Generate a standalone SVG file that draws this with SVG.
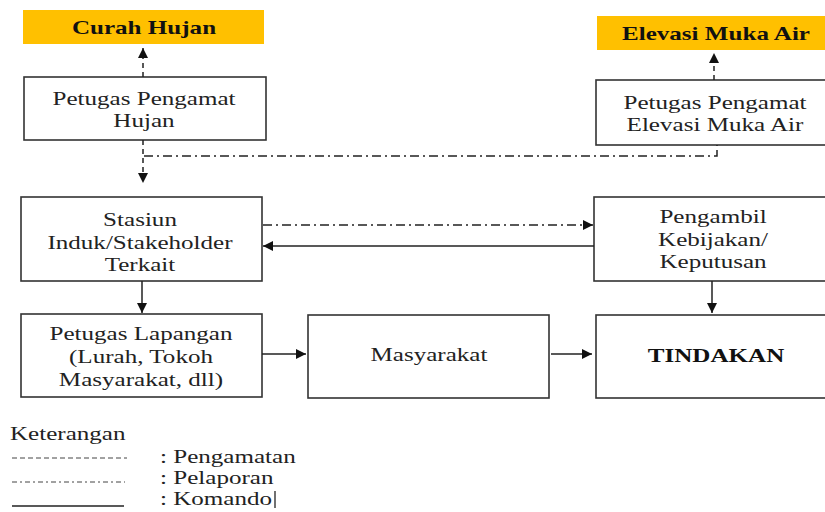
<svg xmlns="http://www.w3.org/2000/svg" width="825" height="512" viewBox="0 0 825 512">
<style>
.box{fill:#fff;stroke:#333;stroke-width:1.6}
.hl{fill:#FFC000;stroke:none}
.t{font-family:'Liberation Serif','Times New Roman',serif;font-size:19px;fill:#222;text-anchor:middle}
.b{font-weight:bold;fill:#111}
.l{font-family:'Liberation Serif','Times New Roman',serif;font-size:19px;fill:#222}
.c{fill:none;stroke:#222;stroke-width:1.5}
.dash{stroke-dasharray:5 4}
.dd{stroke-dasharray:9 4 2 4}
</style>
<defs>
<marker id="ah" viewBox="0 0 10 10" refX="10" refY="5" markerWidth="10" markerHeight="10" markerUnits="userSpaceOnUse" orient="auto">
<path d="M0,0 L10,5 L0,10 Z" fill="#111"/>
</marker>
</defs>
<rect width="825" height="512" fill="#fff"/>

<g id="curah-hujan">
<rect class="hl" x="23" y="10" width="241" height="34"/>
<text class="t b" transform="translate(144,34) scale(1.32,1)">Curah Hujan</text>
</g>
<g id="elevasi-muka-air">
<rect class="hl" x="597" y="16" width="230" height="34"/>
<text class="t b" transform="translate(716,40) scale(1.32,1)">Elevasi Muka Air</text>
</g>
<g id="petugas-hujan">
<rect class="box" x="24" y="77" width="242" height="63"/>
<text class="t" transform="translate(144,105) scale(1.32,1)"><tspan x="0">Petugas Pengamat</tspan><tspan x="0" dy="22">Hujan</tspan></text>
</g>
<g id="petugas-elevasi">
<rect class="box" x="596" y="80" width="234" height="65"/>
<text class="t" transform="translate(715,109) scale(1.32,1)"><tspan x="0">Petugas Pengamat</tspan><tspan x="0" dy="22">Elevasi Muka Air</tspan></text>
</g>
<g id="stasiun">
<rect class="box" x="21" y="197" width="241" height="84"/>
<text class="t" transform="translate(140,226) scale(1.32,1)"><tspan x="0">Stasiun</tspan><tspan x="0" dy="23">Induk/Stakeholder</tspan><tspan x="0" dy="22">Terkait</tspan></text>
</g>
<g id="pengambil">
<rect class="box" x="594" y="197" width="236" height="84"/>
<text class="t" transform="translate(713,223) scale(1.32,1)"><tspan x="0">Pengambil</tspan><tspan x="0" dy="23">Kebijakan/</tspan><tspan x="0" dy="22">Keputusan</tspan></text>
</g>
<g id="petugas-lapangan">
<rect class="box" x="21" y="314" width="241" height="83"/>
<text class="t" transform="translate(141,340) scale(1.32,1)"><tspan x="0">Petugas Lapangan</tspan><tspan x="0" dy="23">(Lurah, Tokoh</tspan><tspan x="0" dy="23">Masyarakat, dll)</tspan></text>
</g>
<g id="masyarakat">
<rect class="box" x="308" y="315" width="241" height="83"/>
<text class="t" transform="translate(429,361) scale(1.32,1)">Masyarakat</text>
</g>
<g id="tindakan">
<rect class="box" x="596" y="315" width="234" height="83"/>
<text class="t b" transform="translate(716,362) scale(1.32,1)">TINDAKAN</text>
</g>

<g id="connectors">
<line class="c dash" x1="143" y1="77" x2="143" y2="48" marker-end="url(#ah)"/>
<line class="c dash" x1="143" y1="140" x2="143" y2="183" marker-end="url(#ah)"/>
<polyline class="c dd" points="144,156 717,156 717,145"/>
<line class="c dash" x1="714" y1="80" x2="714" y2="53" marker-end="url(#ah)"/>
<line class="c dd" x1="263" y1="225" x2="593" y2="225" marker-end="url(#ah)"/>
<line class="c" x1="594" y1="246" x2="263" y2="246" marker-end="url(#ah)"/>
<line class="c" x1="142" y1="281" x2="142" y2="313" marker-end="url(#ah)"/>
<line class="c" x1="262" y1="354" x2="306" y2="354" marker-end="url(#ah)"/>
<line class="c" x1="551" y1="354" x2="592" y2="354" marker-end="url(#ah)"/>
<line class="c" x1="712" y1="281" x2="712" y2="313" marker-end="url(#ah)"/>
</g>

<g id="legend">
<text class="l" transform="translate(10,440) scale(1.32,1)">Keterangan</text>
<line x1="12" y1="458" x2="127" y2="458" stroke="#444" stroke-width="1" stroke-dasharray="5 3"/>
<line x1="12" y1="482" x2="125" y2="482" stroke="#444" stroke-width="1" stroke-dasharray="5 3 2 3"/>
<line x1="12" y1="506" x2="124" y2="506" stroke="#222" stroke-width="1.3"/>
<text class="l" transform="translate(160,463) scale(1.32,1)">: Pengamatan</text>
<text class="l" transform="translate(160,484) scale(1.32,1)">: Pelaporan</text>
<text class="l" transform="translate(160,505) scale(1.32,1)">: Komando</text>
<line x1="275" y1="491" x2="275" y2="508" stroke="#111" stroke-width="1.2"/>
</g>
</svg>
